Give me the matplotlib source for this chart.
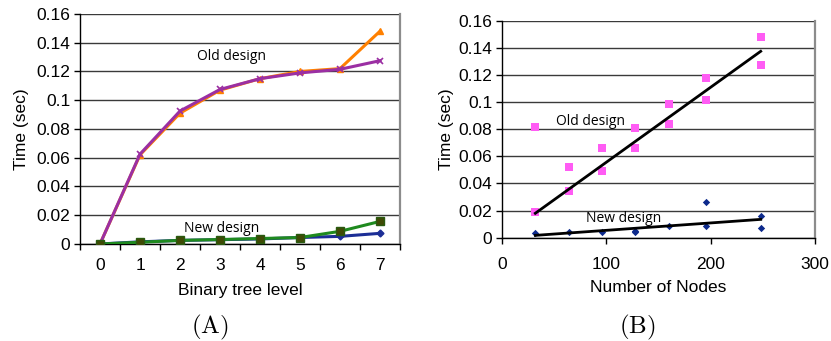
import numpy as np
import matplotlib
matplotlib.use("Agg")
import matplotlib.pyplot as plt

plt.rcParams['font.family'] = ['Liberation Sans', 'DejaVu Sans']
plt.rcParams['mathtext.fontset'] = 'cm'

# ---- panel A data: time vs binary tree level
levels = [0, 1, 2, 3, 4, 5, 6, 7]
old_a1 = [0.0, 0.062, 0.091, 0.107, 0.115, 0.120, 0.122, 0.148]
old_a2 = [0.0, 0.0625, 0.0925, 0.1075, 0.115, 0.119, 0.1215, 0.1275]
new_a1 = [0.0, 0.0015, 0.0025, 0.003, 0.0035, 0.0045, 0.0053, 0.0074]
new_a2 = [0.0, 0.0012, 0.0025, 0.0031, 0.0038, 0.0045, 0.0088, 0.0157]

# ---- panel B data: time vs number of nodes
nodes_old = [32, 32, 64, 64, 96, 96, 128, 128, 160, 160, 196, 196, 248, 248]
time_old = [0.0813, 0.0188, 0.0523, 0.0342, 0.0659, 0.0489, 0.0809, 0.0661,
            0.0988, 0.0835, 0.1180, 0.1015, 0.1480, 0.1275]
nodes_new = [32, 64, 96, 128, 128, 160, 196, 196, 248, 248]
time_new = [0.0037, 0.0039, 0.0044, 0.0050, 0.0042, 0.0088, 0.0260, 0.0084, 0.0157, 0.0074]
trend_x = [32, 248]
trend_old = [0.018, 0.1375]
trend_new = [0.0017, 0.0135]

yticks = [0, 0.02, 0.04, 0.06, 0.08, 0.1, 0.12, 0.14, 0.16]
ylabels = ['0', '0.02', '0.04', '0.06', '0.08', '0.1', '0.12', '0.14', '0.16']

fig = plt.figure(figsize=(8.31, 3.41), dpi=100)
ax1 = fig.add_axes([0.0963, 0.2845, 0.385, 0.6745])
ax2 = fig.add_axes([0.604, 0.303, 0.3767, 0.636])

fs = 12.5
grid_c = '#3a3a3a'


def style(ax, ypad):
    ax.set_ylim(0, 0.16)
    ax.set_yticks(yticks)
    ax.set_yticklabels(ylabels, fontsize=fs)
    ax.yaxis.grid(True, color=grid_c, lw=1.0)
    ax.set_axisbelow(True)
    ax.spines['top'].set_visible(False)
    ax.spines['right'].set_color('#8c8c8c')
    ax.spines['right'].set_linewidth(1.6)
    ax.spines['left'].set_linewidth(1.0)
    ax.spines['bottom'].set_linewidth(1.0)
    ax.tick_params(axis='y', direction='out', length=4, width=1, pad=3)
    ax.set_ylabel('Time (sec)', fontsize=fs, labelpad=ypad)


# ---- panel A
style(ax1, 5.5)
ax1.set_xlim(-0.5, 7.5)
ax1.set_xticks(levels)
ax1.set_xticklabels([str(v) for v in levels], fontsize=fs)
ax1.set_xticks(np.arange(-0.5, 8, 1), minor=True)
ax1.tick_params(axis='x', which='major', length=0, pad=10)
ax1.tick_params(axis='x', which='minor', direction='out', length=4, width=1)
ax1.set_xlabel('Binary tree level', fontsize=fs, labelpad=7)

ax1.plot(levels, old_a1, color='#ff8000', lw=2.2, marker='^', ms=5, zorder=3)
ax1.plot(levels, old_a2, color='#9b2fa3', lw=2.2, marker='x', ms=5, mew=1.2, zorder=4)
ax1.plot(levels, new_a1, color='#1c2e96', lw=2.2, marker='D', ms=3.5, zorder=3)
ax1.plot(levels, new_a2, color='#1f8a1f', lw=2.2, marker='s', ms=5.5,
         mfc='#3f4a05', mec='#2a5a10', zorder=4)
ax1.text(3.3, 0.1305, 'Old design', fontsize=10, family='Open Sans', ha='center', va='center')
ax1.text(3.03, 0.0105, 'New design', fontsize=10, family='Open Sans', ha='center', va='center')

# ---- panel B
style(ax2, 3)
ax2.set_xlim(0, 300)
ax2.set_xticks([0, 100, 200, 300])
ax2.set_xticklabels(['0', '100', '200', '300'], fontsize=fs)
ax2.tick_params(axis='x', direction='out', length=4, width=1, pad=10)
ax2.set_xlabel('Number of Nodes', fontsize=fs, labelpad=6)

ax2.scatter(nodes_old, time_old, marker='s', s=38, color='#ff5cf4', zorder=3, lw=0)
ax2.scatter(nodes_new, time_new, marker='D', s=14, color='#0d2a8c', zorder=3, lw=0)
ax2.plot(trend_x, trend_old, color='black', lw=2, zorder=4)
ax2.plot(trend_x, trend_new, color='black', lw=2, zorder=4)
ax2.text(85, 0.086, 'Old design', fontsize=10, family='Open Sans', ha='center', va='center')
ax2.text(117, 0.0145, 'New design', fontsize=10, family='Open Sans', ha='center', va='center')

# captions
fig.text(210 / 831, 1 - 327 / 341, r'$\mathrm{(A)}$', fontsize=18, ha='center', va='center')
fig.text(637 / 831, 1 - 327 / 341, r'$\mathrm{(B)}$', fontsize=18, ha='center', va='center')

fig.savefig('out.png', dpi=100)
